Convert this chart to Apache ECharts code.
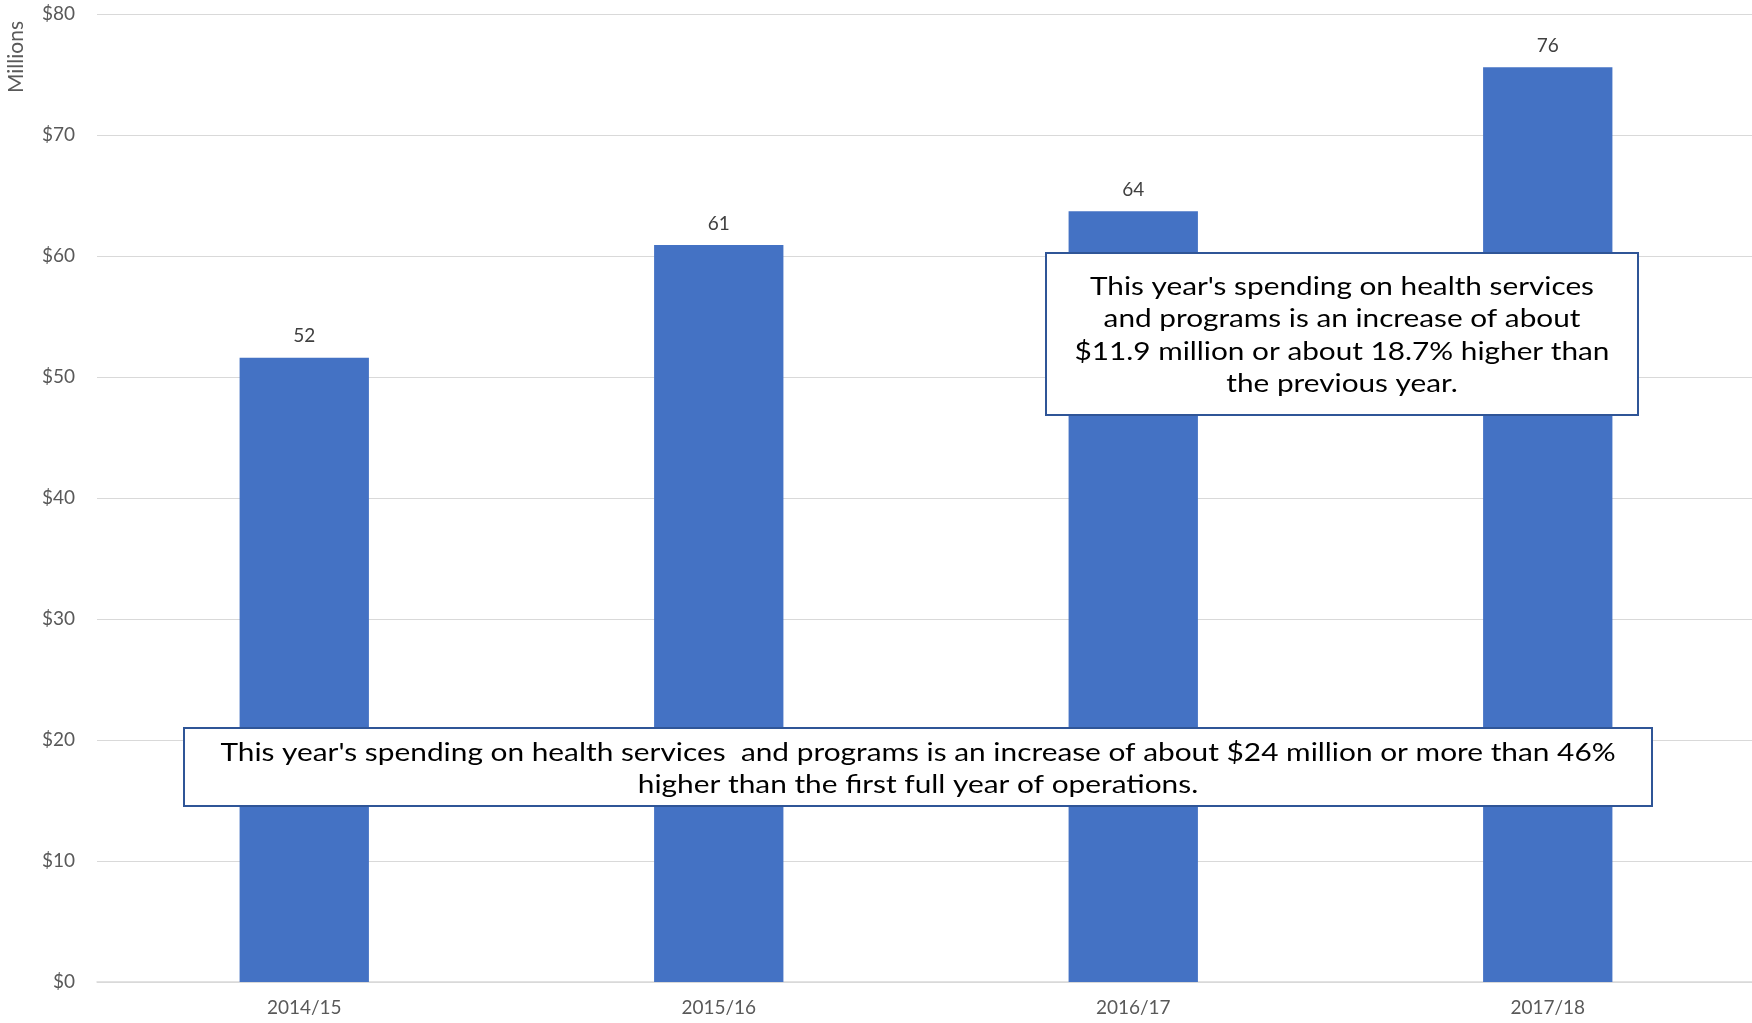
<!DOCTYPE html>
<html>
<head>
<meta charset="utf-8">
<script src="https://cdn.jsdelivr.net/npm/echarts@6/dist/echarts.min.js"></script>
<style>
html,body{margin:0;padding:0;background:#fff;overflow:hidden;width:1752px;height:1023px;}
#chart{width:1755px;height:1023px;}
</style>
</head>
<body>
<div id="chart"></div>
<script>
const categories = ['2014/15', '2015/16', '2016/17', '2017/18'];
const spending = [51.6, 60.9, 63.7, 75.6];
const yTicks = { min: 0, max: 80, interval: 10 };
const axisName = 'Millions';
const note1 = "This year's spending on health services\nand programs is an increase of about\n$11.9 million or about 18.7% higher than\nthe previous year.";
const note2 = "This year's spending on health services  and programs is an increase of about $24 million or more than 46%\nhigher than the first full year of operations.";

const chart = echarts.init(document.getElementById('chart'));
const FONT = 'Lato, "Open Sans", sans-serif';
chart.setOption({
  animation: false,
  grid: { left: 97, right: 0, top: 14, bottom: 41 },
  xAxis: {
    type: 'category',
    data: categories,
    axisLine: { lineStyle: { color: '#d9d9d9', width: 1.5 } },
    axisTick: { show: false },
    axisLabel: { color: '#595959', fontSize: 19, fontFamily: FONT, margin: 16 }
  },
  yAxis: {
    type: 'value',
    min: yTicks.min, max: yTicks.max, interval: yTicks.interval,
    axisLine: { show: false },
    axisTick: { show: false },
    axisLabel: { color: '#595959', fontSize: 19, fontFamily: FONT, margin: 22, formatter: v => '$' + v },
    splitLine: { lineStyle: { color: '#d9d9d9', width: 1.2 } }
  },
  series: [{
    type: 'bar',
    data: spending,
    barWidth: '31.2%',
    itemStyle: { color: '#4472C4' },
    label: {
      show: true, position: 'top', distance: 12,
      color: '#404040', fontSize: 19, fontFamily: FONT,
      formatter: p => Math.round(p.value)
    }
  }],
  graphic: [
    {
      type: 'text', z: 100, x: 16, y: 57, rotation: Math.PI / 2,
      style: { text: axisName, font: '21px ' + FONT, fill: '#595959', align: 'center', verticalAlign: 'middle' }
    },
    {
      type: 'group', left: 1045, top: 252, z: 100,
      children: [
        { type: 'rect', z: 100, shape: { x: 0, y: 0, width: 592, height: 162 },
          style: { fill: '#fff', stroke: '#2F5597', lineWidth: 2 } },
        { type: 'text', z: 101, x: 296, y: 82.5, scaleX: 1.19,
          style: { text: note1, font: '25px ' + FONT, fill: '#000', align: 'center', verticalAlign: 'middle', lineHeight: 32.5 } }
      ]
    },
    {
      type: 'group', left: 183, top: 727, z: 100,
      children: [
        { type: 'rect', z: 100, shape: { x: 0, y: 0, width: 1468, height: 78 },
          style: { fill: '#fff', stroke: '#2F5597', lineWidth: 2 } },
        { type: 'text', z: 101, x: 734, y: 41, scaleX: 1.193,
          style: { text: note2, font: '25px ' + FONT, fill: '#000', align: 'center', verticalAlign: 'middle', lineHeight: 32.5 } }
      ]
    }
  ]
});
</script>
</body>
</html>
